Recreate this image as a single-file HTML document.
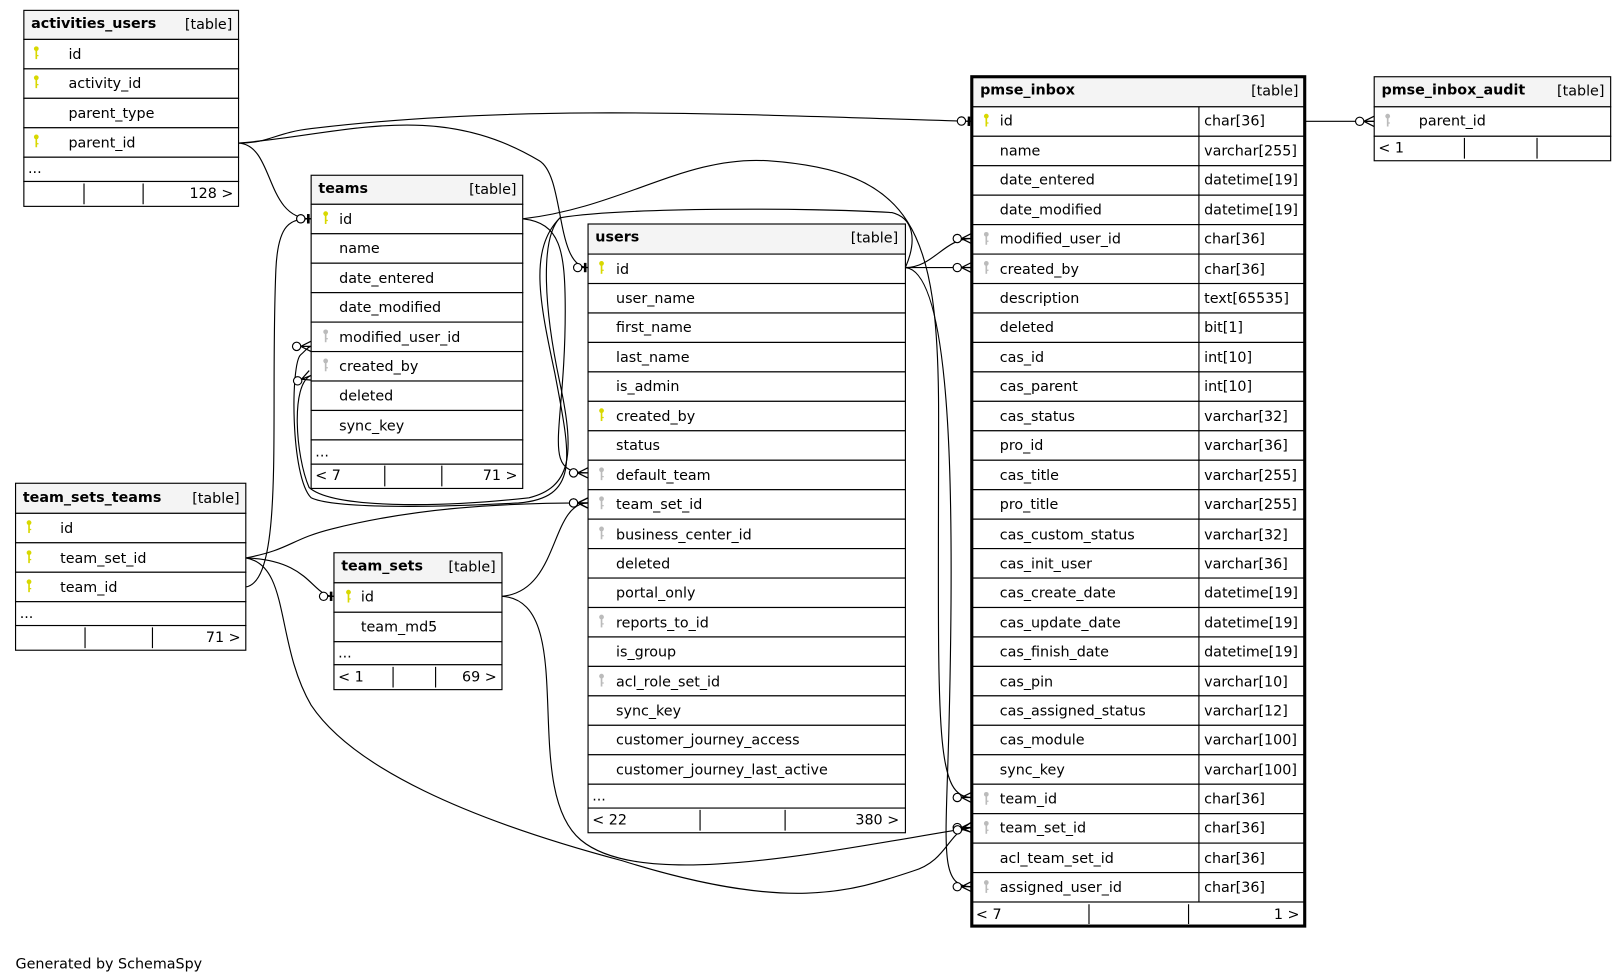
<!DOCTYPE html>
<html><head><meta charset="utf-8"><style>
html,body{margin:0;padding:0;background:#fff;width:1620px;height:980px;overflow:hidden}
svg{display:block}
text{font-family:"DejaVu Sans","Liberation Sans",sans-serif;font-size:13.8px;fill:#000}
.h{font-weight:bold}
.r{fill:#fff;stroke:#000;stroke-width:1.1}
.hd{fill:#f4f4f4;stroke:#000;stroke-width:1.1}
.e{fill:none;stroke:#000;stroke-width:1.1}
</style></head><body>
<svg width="1620" height="980" viewBox="0 0 1562 945" preserveAspectRatio="none" xmlns="http://www.w3.org/2000/svg">
<defs>
<symbol id="k" viewBox="0 0 6 14"><circle cx="3" cy="3" r="2.3" fill="currentColor"/><rect x="2.2" y="4" width="1.6" height="9" fill="currentColor"/><rect x="3.5" y="9" width="1.6" height="1.2" fill="currentColor"/></symbol>
<marker id="many" markerUnits="userSpaceOnUse" markerWidth="22" markerHeight="14" refX="20" refY="7" orient="auto" viewBox="0 0 22 14"><circle cx="6" cy="7" r="4" fill="#fff" stroke="#000" stroke-width="1.1"/><path d="M10 7 L20 2 M10 7 L20 7 M10 7 L20 12" stroke="#000" stroke-width="1.2" fill="none"/></marker>
<marker id="one" markerUnits="userSpaceOnUse" markerWidth="22" markerHeight="14" refX="20" refY="7" orient="auto" viewBox="0 0 22 14"><circle cx="10" cy="7" r="4" fill="#fff" stroke="#000" stroke-width="1.1"/><path d="M14 7 L20 7" stroke="#000" stroke-width="1.2"/><rect x="16" y="2.5" width="2.5" height="9" fill="#000"/></marker>
</defs>

<!-- edges -->
<path class="e" d="M230 138 C260 138 265 128 300 124 C500 100 700 110 937 117" marker-end="url(#one)"/>
<path class="e" d="M230 138 C330 130 420 95 520 155 C545 170 535 258 567 258" marker-end="url(#one)"/>
<path class="e" d="M230 138 C265 140 255 211 300 211" marker-end="url(#one)"/>
<path class="e" d="M237 566 C275 560 260 400 266 260 C268 215 280 211 300 211" marker-end="url(#one)"/>
<path class="e" d="M504 211 C600 200 660 150 740 155 C880 165 905 220 905 400 C905 700 900 769 937 769" marker-end="url(#many)"/>
<path class="e" d="M504 211 C540 215 545 240 545 300 C545 420 520 456 567 456" marker-end="url(#many)"/>
<path class="e" d="M873 258 C900 258 910 230 937 230" marker-end="url(#many)"/>
<path class="e" d="M873 258 L937 258" marker-end="url(#many)"/>
<path class="e" d="M873 258 C920 262 920 500 915 700 C912 820 905 855 937 855" marker-end="url(#many)"/>
<path class="e" d="M873 258 C885 230 880 210 860 205 C780 200 600 200 540 210 C510 240 520 290 535 360 C550 440 560 480 500 485 C410 490 320 490 300 480 C280 460 280 350 290 342 C295 338 297 334 300 334" marker-end="url(#many)"/>
<path class="e" d="M540 210 C520 230 525 300 540 370 C555 440 550 470 510 480 C420 490 320 490 298 470 C285 440 280 370 300 362" marker-end="url(#many)"/>
<path class="e" d="M237 538 C300 540 300 575 322 575" marker-end="url(#one)"/>
<path class="e" d="M237 538 C280 530 280 520 320 510 C400 490 480 485 567 485" marker-end="url(#many)"/>
<path class="e" d="M237 538 C280 545 265 620 300 680 C340 740 450 790 600 830 C760 880 820 860 880 840 C915 830 915 798 937 798" marker-end="url(#many)"/>
<path class="e" d="M484 575 C540 570 530 485 567 485" marker-end="url(#many)"/>
<path class="e" d="M484 575 C560 580 500 760 560 810 C620 860 800 820 937 798" marker-end="url(#many)"/>
<path class="e" d="M1258 117 L1325 117" marker-end="url(#many)"/>

<!-- activities_users -->
<rect class="hd" x="23" y="10" width="207" height="28"/>
<text class="h" x="30" y="27">activities_users</text><text x="224" y="28" text-anchor="end">[table]</text>
<rect class="r" x="23" y="38" width="207" height="28.4"/><use href="#k" x="32" y="44" width="6" height="14" style="color:#d8d800"/><text x="66" y="57">id</text>
<rect class="r" x="23" y="66.4" width="207" height="28.4"/><use href="#k" x="32" y="72" width="6" height="14" style="color:#d8d800"/><text x="66" y="85">activity_id</text>
<rect class="r" x="23" y="94.8" width="207" height="28.4"/><text x="66" y="114">parent_type</text>
<rect class="r" x="23" y="123.2" width="207" height="28.4"/><use href="#k" x="32" y="129" width="6" height="14" style="color:#d8d800"/><text x="66" y="142">parent_id</text>
<rect class="r" x="23" y="151.6" width="207" height="23.4"/><text x="27" y="167">...</text>
<rect class="r" x="23" y="175" width="207" height="24"/><path class="e" d="M81 177V197M138 177V197"/><text x="225" y="191" text-anchor="end">128 &gt;</text>

<!-- teams -->
<rect class="hd" x="300" y="169" width="204" height="28"/>
<text class="h" x="307" y="186">teams</text><text x="498" y="187" text-anchor="end">[table]</text>
<rect class="r" x="300" y="197" width="204" height="28.4"/><use href="#k" x="311" y="203" width="6" height="14" style="color:#d8d800"/><text x="327" y="216">id</text>
<rect class="r" x="300" y="225.4" width="204" height="28.4"/><text x="327" y="244">name</text>
<rect class="r" x="300" y="253.8" width="204" height="28.4"/><text x="327" y="273">date_entered</text>
<rect class="r" x="300" y="282.2" width="204" height="28.4"/><text x="327" y="301">date_modified</text>
<rect class="r" x="300" y="310.6" width="204" height="28.4"/><use href="#k" x="311" y="317" width="6" height="14" style="color:#bbb"/><text x="327" y="330">modified_user_id</text>
<rect class="r" x="300" y="339" width="204" height="28.4"/><use href="#k" x="311" y="345" width="6" height="14" style="color:#bbb"/><text x="327" y="358">created_by</text>
<rect class="r" x="300" y="367.4" width="204" height="28.4"/><text x="327" y="386">deleted</text>
<rect class="r" x="300" y="395.8" width="204" height="28.4"/><text x="327" y="415">sync_key</text>
<rect class="r" x="300" y="424.2" width="204" height="23.4"/><text x="304" y="440">...</text>
<rect class="r" x="300" y="447.6" width="204" height="23.4"/><path class="e" d="M371 449V469M426 449V469"/><text x="304" y="463">&lt; 7</text><text x="499" y="463" text-anchor="end">71 &gt;</text>

<!-- users -->
<rect class="hd" x="567" y="216" width="306" height="29"/>
<text class="h" x="574" y="233">users</text><text x="866" y="234" text-anchor="end">[table]</text>
<g>
<rect class="r" x="567" y="245" width="306" height="28.4"/><use href="#k" x="577" y="251" width="6" height="14" style="color:#d8d800"/><text x="594" y="264">id</text>
<rect class="r" x="567" y="273.4" width="306" height="28.4"/><text x="594" y="292">user_name</text>
<rect class="r" x="567" y="301.8" width="306" height="28.4"/><text x="594" y="320">first_name</text>
<rect class="r" x="567" y="330.2" width="306" height="28.4"/><text x="594" y="349">last_name</text>
<rect class="r" x="567" y="358.6" width="306" height="28.4"/><text x="594" y="377">is_admin</text>
<rect class="r" x="567" y="387" width="306" height="28.4"/><use href="#k" x="577" y="393" width="6" height="14" style="color:#d8d800"/><text x="594" y="406">created_by</text>
<rect class="r" x="567" y="415.4" width="306" height="28.4"/><text x="594" y="434">status</text>
<rect class="r" x="567" y="443.8" width="306" height="28.4"/><use href="#k" x="577" y="450" width="6" height="14" style="color:#bbb"/><text x="594" y="463">default_team</text>
<rect class="r" x="567" y="472.2" width="306" height="28.4"/><use href="#k" x="577" y="478" width="6" height="14" style="color:#bbb"/><text x="594" y="491">team_set_id</text>
<rect class="r" x="567" y="500.6" width="306" height="28.4"/><use href="#k" x="577" y="507" width="6" height="14" style="color:#bbb"/><text x="594" y="520">business_center_id</text>
<rect class="r" x="567" y="529" width="306" height="28.4"/><text x="594" y="548">deleted</text>
<rect class="r" x="567" y="557.4" width="306" height="28.4"/><text x="594" y="576">portal_only</text>
<rect class="r" x="567" y="585.8" width="306" height="28.4"/><use href="#k" x="577" y="592" width="6" height="14" style="color:#bbb"/><text x="594" y="605">reports_to_id</text>
<rect class="r" x="567" y="614.2" width="306" height="28.4"/><text x="594" y="633">is_group</text>
<rect class="r" x="567" y="642.6" width="306" height="28.4"/><use href="#k" x="577" y="649" width="6" height="14" style="color:#bbb"/><text x="594" y="662">acl_role_set_id</text>
<rect class="r" x="567" y="671" width="306" height="28.4"/><text x="594" y="690">sync_key</text>
<rect class="r" x="567" y="699.4" width="306" height="28.4"/><text x="594" y="718">customer_journey_access</text>
<rect class="r" x="567" y="727.8" width="306" height="28.4"/><text x="594" y="747">customer_journey_last_active</text>
<rect class="r" x="567" y="756.2" width="306" height="23"/><text x="571" y="772">...</text>
<rect class="r" x="567" y="779.2" width="306" height="23.8"/><path class="e" d="M675 781V801M757 781V801"/><text x="571" y="795">&lt; 22</text><text x="867" y="795" text-anchor="end">380 &gt;</text>
</g>

<!-- team_sets_teams -->
<rect class="hd" x="15" y="466" width="222" height="29"/>
<text class="h" x="22" y="484">team_sets_teams</text><text x="231" y="485" text-anchor="end">[table]</text>
<rect class="r" x="15" y="495" width="222" height="28.4"/><use href="#k" x="25" y="501" width="6" height="14" style="color:#d8d800"/><text x="58" y="514">id</text>
<rect class="r" x="15" y="523.4" width="222" height="28.4"/><use href="#k" x="25" y="530" width="6" height="14" style="color:#d8d800"/><text x="58" y="543">team_set_id</text>
<rect class="r" x="15" y="551.8" width="222" height="28.4"/><use href="#k" x="25" y="558" width="6" height="14" style="color:#d8d800"/><text x="58" y="571">team_id</text>
<rect class="r" x="15" y="580.2" width="222" height="23"/><text x="19" y="596">...</text>
<rect class="r" x="15" y="603.2" width="222" height="23.8"/><path class="e" d="M82 605V625M147 605V625"/><text x="232" y="619" text-anchor="end">71 &gt;</text>

<!-- team_sets -->
<rect class="hd" x="322" y="533" width="162" height="29"/>
<text class="h" x="329" y="550">team_sets</text><text x="478" y="551" text-anchor="end">[table]</text>
<rect class="r" x="322" y="562" width="162" height="28.4"/><use href="#k" x="333" y="568" width="6" height="14" style="color:#d8d800"/><text x="348" y="580">id</text>
<rect class="r" x="322" y="590.4" width="162" height="28.4"/><text x="348" y="609">team_md5</text>
<rect class="r" x="322" y="618.8" width="162" height="22.2"/><text x="326" y="634">...</text>
<rect class="r" x="322" y="641" width="162" height="24"/><path class="e" d="M379 643V663M420 643V663"/><text x="326" y="657">&lt; 1</text><text x="479" y="657" text-anchor="end">69 &gt;</text>

<!-- pmse_inbox -->
<rect class="hd" x="937" y="74" width="321" height="29"/>
<text class="h" x="945" y="91">pmse_inbox</text><text x="1252" y="92" text-anchor="end">[table]</text>
<g>
<rect class="r" x="937" y="103" width="321" height="28.4"/><use href="#k" x="948" y="109" width="6" height="14" style="color:#d8d800"/><text x="964" y="121">id</text><text x="1161" y="121">char[36]</text>
<rect class="r" x="937" y="131.4" width="321" height="28.4"/><text x="964" y="150">name</text><text x="1161" y="150">varchar[255]</text>
<rect class="r" x="937" y="159.8" width="321" height="28.4"/><text x="964" y="178">date_entered</text><text x="1161" y="178">datetime[19]</text>
<rect class="r" x="937" y="188.2" width="321" height="28.4"/><text x="964" y="207">date_modified</text><text x="1161" y="207">datetime[19]</text>
<rect class="r" x="937" y="216.6" width="321" height="28.4"/><use href="#k" x="948" y="223" width="6" height="14" style="color:#bbb"/><text x="964" y="235">modified_user_id</text><text x="1161" y="235">char[36]</text>
<rect class="r" x="937" y="245" width="321" height="28.4"/><use href="#k" x="948" y="251" width="6" height="14" style="color:#bbb"/><text x="964" y="264">created_by</text><text x="1161" y="264">char[36]</text>
<rect class="r" x="937" y="273.4" width="321" height="28.4"/><text x="964" y="292">description</text><text x="1161" y="292">text[65535]</text>
<rect class="r" x="937" y="301.8" width="321" height="28.4"/><text x="964" y="320">deleted</text><text x="1161" y="320">bit[1]</text>
<rect class="r" x="937" y="330.2" width="321" height="28.4"/><text x="964" y="349">cas_id</text><text x="1161" y="349">int[10]</text>
<rect class="r" x="937" y="358.6" width="321" height="28.4"/><text x="964" y="377">cas_parent</text><text x="1161" y="377">int[10]</text>
<rect class="r" x="937" y="387" width="321" height="28.4"/><text x="964" y="406">cas_status</text><text x="1161" y="406">varchar[32]</text>
<rect class="r" x="937" y="415.4" width="321" height="28.4"/><text x="964" y="434">pro_id</text><text x="1161" y="434">varchar[36]</text>
<rect class="r" x="937" y="443.8" width="321" height="28.4"/><text x="964" y="463">cas_title</text><text x="1161" y="463">varchar[255]</text>
<rect class="r" x="937" y="472.2" width="321" height="28.4"/><text x="964" y="491">pro_title</text><text x="1161" y="491">varchar[255]</text>
<rect class="r" x="937" y="500.6" width="321" height="28.4"/><text x="964" y="520">cas_custom_status</text><text x="1161" y="520">varchar[32]</text>
<rect class="r" x="937" y="529" width="321" height="28.4"/><text x="964" y="548">cas_init_user</text><text x="1161" y="548">varchar[36]</text>
<rect class="r" x="937" y="557.4" width="321" height="28.4"/><text x="964" y="576">cas_create_date</text><text x="1161" y="576">datetime[19]</text>
<rect class="r" x="937" y="585.8" width="321" height="28.4"/><text x="964" y="605">cas_update_date</text><text x="1161" y="605">datetime[19]</text>
<rect class="r" x="937" y="614.2" width="321" height="28.4"/><text x="964" y="633">cas_finish_date</text><text x="1161" y="633">datetime[19]</text>
<rect class="r" x="937" y="642.6" width="321" height="28.4"/><text x="964" y="662">cas_pin</text><text x="1161" y="662">varchar[10]</text>
<rect class="r" x="937" y="671" width="321" height="28.4"/><text x="964" y="690">cas_assigned_status</text><text x="1161" y="690">varchar[12]</text>
<rect class="r" x="937" y="699.4" width="321" height="28.4"/><text x="964" y="718">cas_module</text><text x="1161" y="718">varchar[100]</text>
<rect class="r" x="937" y="727.8" width="321" height="28.4"/><text x="964" y="747">sync_key</text><text x="1161" y="747">varchar[100]</text>
<rect class="r" x="937" y="756.2" width="321" height="28.4"/><use href="#k" x="948" y="763" width="6" height="14" style="color:#bbb"/><text x="964" y="775">team_id</text><text x="1161" y="775">char[36]</text>
<rect class="r" x="937" y="784.6" width="321" height="28.4"/><use href="#k" x="948" y="791" width="6" height="14" style="color:#bbb"/><text x="964" y="803">team_set_id</text><text x="1161" y="803">char[36]</text>
<rect class="r" x="937" y="813" width="321" height="28.4"/><text x="964" y="832">acl_team_set_id</text><text x="1161" y="832">char[36]</text>
<rect class="r" x="937" y="841.4" width="321" height="28.4"/><use href="#k" x="948" y="848" width="6" height="14" style="color:#bbb"/><text x="964" y="860">assigned_user_id</text><text x="1161" y="860">char[36]</text>
<path class="e" d="M1156 103V870"/>
<rect class="r" x="937" y="869.8" width="321" height="23.2"/><path class="e" d="M1050 872V891M1146 872V891"/><text x="941" y="886">&lt; 7</text><text x="1253" y="886" text-anchor="end">1 &gt;</text>
<rect x="937" y="74" width="321" height="819" fill="none" stroke="#000" stroke-width="3"/>
</g>

<!-- pmse_inbox_audit -->
<rect class="hd" x="1325" y="74" width="228" height="29"/>
<text class="h" x="1332" y="91">pmse_inbox_audit</text><text x="1547" y="92" text-anchor="end">[table]</text>
<rect class="r" x="1325" y="103" width="228" height="28.4"/><use href="#k" x="1335" y="109" width="6" height="14" style="color:#bbb"/><text x="1368" y="121">parent_id</text>
<rect class="r" x="1325" y="131.4" width="228" height="23.6"/><path class="e" d="M1412 133V153M1482 133V153"/><text x="1329" y="147">&lt; 1</text>

<text x="15" y="934">Generated by SchemaSpy</text>
</svg>
</body></html>
